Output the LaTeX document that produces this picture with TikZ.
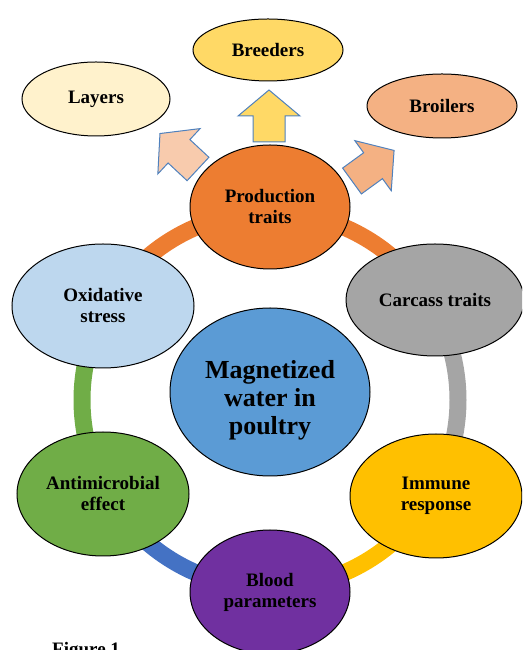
\documentclass[tikz,border=0pt]{standalone}
\usepackage{fontspec}
\setmainfont{Liberation Serif}
\usetikzlibrary{shapes.geometric}
\definecolor{cLayers}{HTML}{FFF2CC}
\definecolor{cBreed}{HTML}{FFD966}
\definecolor{cBroil}{HTML}{F4B183}
\definecolor{cLayArr}{HTML}{F8CBAD}
\definecolor{cProd}{HTML}{ED7D31}
\definecolor{cCarc}{HTML}{A5A5A5}
\definecolor{cOxid}{HTML}{BDD7EE}
\definecolor{cMain}{HTML}{5B9BD5}
\definecolor{cAnti}{HTML}{70AD47}
\definecolor{cImmu}{HTML}{FFC000}
\definecolor{cBlood}{HTML}{7030A0}
\definecolor{cRingB}{HTML}{4472C4}
\definecolor{cArrEdge}{HTML}{4F81BD}
\begin{document}
\begin{tikzpicture}[x=1pt,y=1pt]
  \tikzset{bub/.style={draw=black,line width=1pt,ellipse,inner sep=0pt,align=center,
      font=\fontsize{19}{21}\selectfont\bfseries},
    ring/.style={line width=17pt},
    barrow/.style={draw=cArrEdge,line width=1pt,line join=miter}}
  \clip (0,0) rectangle (522,650);
  \useasboundingbox (0,0) rectangle (522,650);
  \coordinate (hub) at (270,250);
  % ring behind the bubbles
  \draw[ring,cProd] (hub) ++(150:188) arc (150:30:188);
  \draw[ring,cCarc] (hub) ++(30:188) arc (30:-30:188);
  \draw[ring,cImmu] (hub) ++(-30:188) arc (-30:-90:188);
  \draw[ring,cRingB] (hub) ++(-90:188) arc (-90:-150:188);
  \draw[ring,cAnti] (hub) ++(-150:188) arc (-150:-210:188);
  % top row
  \node[bub,fill=cLayers,minimum width=148pt,minimum height=74pt] (lay) at (96,551) {Layers};
  \node[bub,fill=cBreed,minimum width=150pt,minimum height=62pt] (bre) at (268,600) {Breeders};
  \node[bub,fill=cBroil,minimum width=150pt,minimum height=64pt] (bro) at (442,544) {Broilers};
  % arrows out of production
  \coordinate (aup) at (269,508);
  \coordinate (alf) at (198,481);
  \coordinate (art) at (352,469);
  \draw[barrow,fill=cBreed,shift={(aup)},rotate=0]
    (-16,0) -- (-16,26) -- (-31,26) -- (0,52) -- (31,26) -- (16,26) -- (16,0) -- cycle;
  \draw[barrow,fill=cLayArr,shift={(alf)},rotate=47]
    (-16,0) -- (-16,26) -- (-31,26) -- (0,52) -- (31,26) -- (16,26) -- (16,0) -- cycle;
  \draw[barrow,fill=cBroil,shift={(art)},rotate=-54]
    (-16,0) -- (-16,26) -- (-31,26) -- (0,52) -- (31,26) -- (16,26) -- (16,0) -- cycle;
  % cycle bubbles
  \node[bub,fill=cProd,minimum width=160pt,minimum height=124pt] (prod) at (270,443) {Production\\traits};
  \node[bub,fill=cCarc,minimum width=178pt,minimum height=112pt] (carc) at (435,350) {Carcass traits};
  \node[bub,fill=cOxid,minimum width=182pt,minimum height=124pt] (oxid) at (103,344) {Oxidative\\stress};
  \node[bub,fill=cAnti,minimum width=172pt,minimum height=124pt] (anti) at (103,156) {Antimicrobial\\effect};
  \node[bub,fill=cImmu,minimum width=172pt,minimum height=124pt] (immu) at (436,154) {Immune\\response};
  \node[bub,fill=cBlood,minimum width=160pt,minimum height=124pt] (blood) at (270,58) {Blood\\parameters};
  \node[bub,fill=cMain,minimum width=200pt,minimum height=168pt] (main) at (270,258) {};
  \node[align=center,font=\fontsize{26}{28}\selectfont\bfseries] (maintxt) at (270,250) {Magnetized\\water in\\poultry};
  % caption, cut by the page edge
  \node[anchor=north west,inner sep=0pt,font=\fontsize{19}{21}\selectfont\bfseries] (cap) at (52,8) {Figure 1.};
\end{tikzpicture}
\end{document}
